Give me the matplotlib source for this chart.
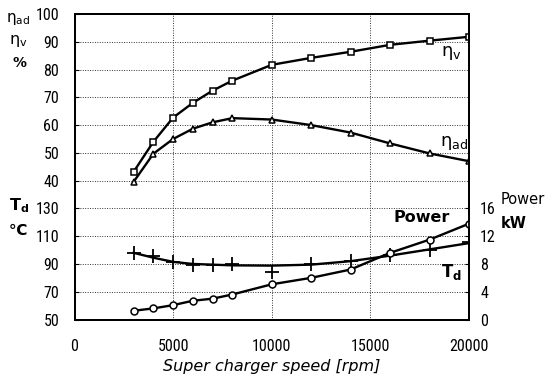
import matplotlib
matplotlib.use("Agg")
import matplotlib.pyplot as plt
from matplotlib import font_manager

plt.rcParams["mathtext.fontset"] = "custom"
plt.rcParams["mathtext.rm"] = "DejaVu Sans:bold"
plt.rcParams["mathtext.it"] = "DejaVu Sans:bold"
plt.rcParams["mathtext.bf"] = "DejaVu Sans:bold"
plt.rcParams["mathtext.default"] = "regular"

# ---- data ----
speed = [3000, 4000, 5000, 6000, 7000, 8000, 10000, 12000, 14000, 16000, 18000, 20000]
eta_v = [43.2, 54.0, 62.7, 68.0, 72.4, 76.0, 81.7, 84.2, 86.4, 88.9, 90.4, 91.8]
eta_ad = [39.6, 49.7, 55.0, 58.7, 61.0, 62.5, 62.0, 60.0, 57.3, 53.4, 49.8, 47.0]
td = [98.0, 96.0, 91.6, 89.5, 89.5, 90.0, 84.0, 90.0, 92.0, 96.5, 100.0, 106.0]
td_trend_x = [3000, 4000, 5000, 6000, 8000, 10000, 12000, 14000, 16000, 18000, 20000]
td_trend = [98.0, 94.5, 91.5, 90.0, 89.0, 88.8, 89.5, 92.0, 96.0, 100.5, 105.0]
power = [1.26, 1.6, 2.07, 2.7, 3.0, 3.6, 5.07, 6.0, 7.2, 9.6, 11.5, 13.8]

x_ticks = [0, 5000, 10000, 15000, 20000]
eta_ticks = [40, 50, 60, 70, 80, 90, 100]
td_ticks = [50, 70, 90, 110, 130]
pw_ticks = [0, 4, 8, 12, 16]

names = {f.name for f in font_manager.fontManager.ttflist}
narrow_family = None
for pref in ["Liberation Sans Narrow", "Roboto Condensed", "Open Sans Condensed",
             "DejaVu Sans Condensed"]:
    if pref in names:
        narrow_family = pref
        break

W, H = 550, 383
fig = plt.figure(figsize=(W / 100, H / 100), dpi=100)
L, R, T, B = 74.5, 469, 14, 319.5
ax = fig.add_axes([L / W, 1 - B / H, (R - L) / W, (B - T) / H])
axT = ax.twinx()
axP = ax.twinx()

ax.set_xlim(0, 20000)
ax.set_ylim(-10, 100)
axT.set_ylim(50, 270)
axP.set_ylim(0, 44)

grid_kw = dict(color="#333333", linestyle=(0, (1, 1.5)), linewidth=0.7)
ax.set_xticks(x_ticks)
ax.set_yticks(eta_ticks)
ax.grid(True, **grid_kw)
axT.set_yticks(td_ticks)
axT.yaxis.grid(True, **grid_kw)
axT.yaxis.set_ticks_position("left")
axP.set_yticks(pw_ticks)

for a in (ax, axT, axP):
    for s in a.spines.values():
        s.set_linewidth(1.3)
        s.set_color("black")
    a.tick_params(direction="in", length=3, width=0.8)
ax.tick_params(axis="y", pad=11)
axT.tick_params(axis="y", pad=11)
axP.tick_params(axis="y", pad=8)
ax.tick_params(axis="x", pad=14, length=0)

for a in (ax, axT, axP):
    for lab in a.get_yticklabels() + a.get_xticklabels():
        if narrow_family:
            lab.set_fontfamily([narrow_family, "DejaVu Sans"])
            lab.set_fontsize(11.5)
        else:
            lab.set_fontfamily("DejaVu Sans")
            lab.set_fontstretch("condensed")
            lab.set_fontsize(10)

# ---- series ----
ax.plot(speed, eta_v, color="black", lw=1.7, marker="s", ms=5,
        mfc="white", mec="black", mew=1.1)
ax.plot(speed, eta_ad, color="black", lw=1.7, marker="^", ms=5,
        mfc="white", mec="black", mew=1.1)
axT.plot(td_trend_x, td_trend, color="black", lw=1.7)
axT.plot(speed, td, linestyle="none", marker="+", ms=10, mec="black", mew=1.3)
axP.plot(speed, power, color="black", lw=1.7, marker="o", ms=5,
         mfc="white", mec="black", mew=1.1)

# ---- in-plot labels ----
ax.text(18600, 86, r"$\eta_{v}$", fontsize=13, ha="left", va="center")
ax.text(18550, 53.5, r"$\eta_{ad}$", fontsize=13, ha="left", va="center")
axP.text(17600, 14.7, "Power", fontsize=11.5, fontweight="bold", ha="center", va="center")
axT.text(19100, 84, r"T$_{d}$", fontsize=12, fontweight="bold", ha="center", va="center")

# ---- axis titles ----
def ftext(px, py, s, **kw):
    fig.text(px / W, 1 - py / H, s, **kw)

ftext(6, 19, r"$\eta_{ad}$", fontsize=11, ha="left", va="center")
ftext(9, 41, r"$\eta_{v}$", fontsize=11.5, ha="left", va="center")
ftext(12, 63, "%", fontsize=10, fontweight="bold", ha="left", va="center")
ftext(9, 206, r"T$_{d}$", fontsize=11.5, fontweight="bold", ha="left", va="center")
ftext(9, 230, "℃", fontsize=11, fontweight="bold", ha="left", va="center")
ftext(501, 199, "Power", fontsize=10.5, ha="left", va="center")
ftext(501, 223, "kW", fontsize=10.5, fontweight="bold", ha="left", va="center")

ax.set_xlabel("Super charger speed [rpm]", fontsize=11.5, fontstyle="italic", labelpad=4)

fig.savefig("out.png", dpi=100)
